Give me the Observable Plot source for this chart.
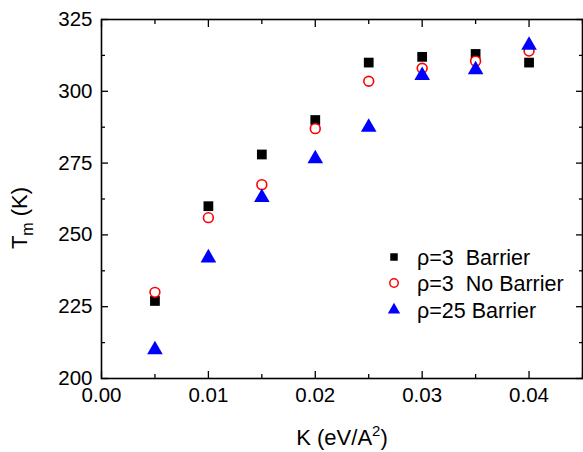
<!DOCTYPE html>
<html>
<head>
<meta charset="utf-8">
<script src="https://cdn.jsdelivr.net/npm/d3@7"></script>
<script src="https://cdn.jsdelivr.net/npm/@observablehq/plot@0.6"></script>
<style>
  body { margin: 0; background: white; }
  svg { font-family: "Liberation Sans", Arial, sans-serif; }
</style>
</head>
<body>
<div id="chart"></div>
<script>
const K = [0.005, 0.010, 0.015, 0.020, 0.025, 0.030, 0.035, 0.040];
const tmRho3Barrier   = [227, 260, 278, 290, 310, 312, 313, 310];
const tmRho3NoBarrier = [230, 256, 267.5, 287, 303.5, 308, 310.5, 314];
const tmRho25Barrier  = [210, 242, 263, 276.5, 287.5, 305.5, 307.5, 316];
const seriesNames = ["\u03c1=3  Barrier", "\u03c1=3  No Barrier", "\u03c1=25 Barrier"];
const xMajor = [0, 0.01, 0.02, 0.03, 0.04];
const xMinor = [0.005, 0.015, 0.025, 0.035, 0.045];
const yMajor = [200, 225, 250, 275, 300, 325];
const yMinor = [212.5, 237.5, 262.5, 287.5, 312.5];

const mk = (vals) => K.map((k, i) => ({k, t: vals[i]}));
const d1 = mk(tmRho3Barrier), d2 = mk(tmRho3NoBarrier), d3s = mk(tmRho25Barrier);

const fs = 20.5;
const svg = Plot.plot({
  width: 583, height: 452,
  marginLeft: 101, marginRight: 1, marginTop: 19, marginBottom: 74,
  style: {fontFamily: "Liberation Sans, Arial, sans-serif", background: "white"},
  x: {domain: [0, 0.045]},
  y: {domain: [200, 325]},
  marks: [
    Plot.axisX(xMajor, {anchor: "bottom", tickSize: 0, tickPadding: 9, tickFormat: d3.format(".2f"), fontSize: fs, fill: "black", label: null}),
    Plot.axisY(yMajor, {anchor: "left", tickSize: 0, tickPadding: 9, tickFormat: d3.format("d"), fontSize: fs, fill: "black", label: null}),
    Plot.axisX(xMajor, {anchor: "bottom", tickSize: -7, text: null, label: null, stroke: "black", strokeWidth: 1.3}),
    Plot.axisX(xMinor, {anchor: "bottom", tickSize: -4, text: null, label: null, stroke: "black", strokeWidth: 1.3}),
    Plot.axisX(xMajor, {anchor: "top", tickSize: -7, text: null, label: null, stroke: "black", strokeWidth: 1.3}),
    Plot.axisX(xMinor, {anchor: "top", tickSize: -4, text: null, label: null, stroke: "black", strokeWidth: 1.3}),
    Plot.axisY(yMajor, {anchor: "left", tickSize: -7, text: null, label: null, stroke: "black", strokeWidth: 1.3}),
    Plot.axisY(yMinor, {anchor: "left", tickSize: -4, text: null, label: null, stroke: "black", strokeWidth: 1.3}),
    Plot.axisY(yMajor, {anchor: "right", tickSize: -7, text: null, label: null, stroke: "black", strokeWidth: 1.3}),
    Plot.axisY(yMinor, {anchor: "right", tickSize: -4, text: null, label: null, stroke: "black", strokeWidth: 1.3}),
    Plot.frame({stroke: "black", strokeWidth: 1.6}),
    Plot.dot(d1, {x: "k", y: "t", symbol: "square", r: 5.5, fill: "black", stroke: "none"}),
    Plot.dot(d2, {x: "k", y: "t", symbol: "circle", r: 4.9, fill: "white", stroke: "#ff0000", strokeWidth: 1.6}),
    Plot.dot(d3s, {x: "k", y: "t", symbol: "triangle", r: 5.8, fill: "#0000ff", stroke: "none"})
  ]
});
document.getElementById("chart").appendChild(svg);

const s = d3.select(svg);
// axis titles
const xt = s.append("text").attr("x", 342).attr("y", 445).attr("text-anchor", "middle")
  .attr("font-size", 22).attr("fill", "black");
xt.append("tspan").text("K (eV/A");
xt.append("tspan").attr("font-size", 15).attr("dy", -9).text("2");
xt.append("tspan").attr("dy", 9).text(")");

const yt = s.append("text").attr("transform", "translate(27,218) rotate(-90)")
  .attr("text-anchor", "middle").attr("font-size", 22).attr("fill", "black");
yt.append("tspan").text("T");
yt.append("tspan").attr("font-size", 16).attr("dy", 6).text("m");
yt.append("tspan").attr("dy", -6).text(" (K)");

// legend
const lx = 394, ly = [257, 283, 310];
const leg = s.append("g").attr("text-anchor", "start");
leg.append("path").attr("transform", `translate(${lx},${ly[0]})`)
  .attr("d", d3.symbol(d3.symbolSquare, 56)()).attr("fill", "black");
leg.append("circle").attr("cx", lx).attr("cy", ly[1]).attr("r", 4.2)
  .attr("fill", "white").attr("stroke", "#ff0000").attr("stroke-width", 1.5);
leg.append("path").attr("transform", `translate(${lx},${ly[2]})`)
  .attr("d", d3.symbol(d3.symbolTriangle, 66)()).attr("fill", "#0000ff");
seriesNames.forEach((n, i) => {
  leg.append("text").attr("x", 417).attr("y", ly[i]).attr("dy", "0.36em")
    .attr("text-anchor", "start")
    .attr("font-size", 21.5).attr("fill", "black").style("white-space", "pre").text(n);
});
</script>
</body>
</html>
